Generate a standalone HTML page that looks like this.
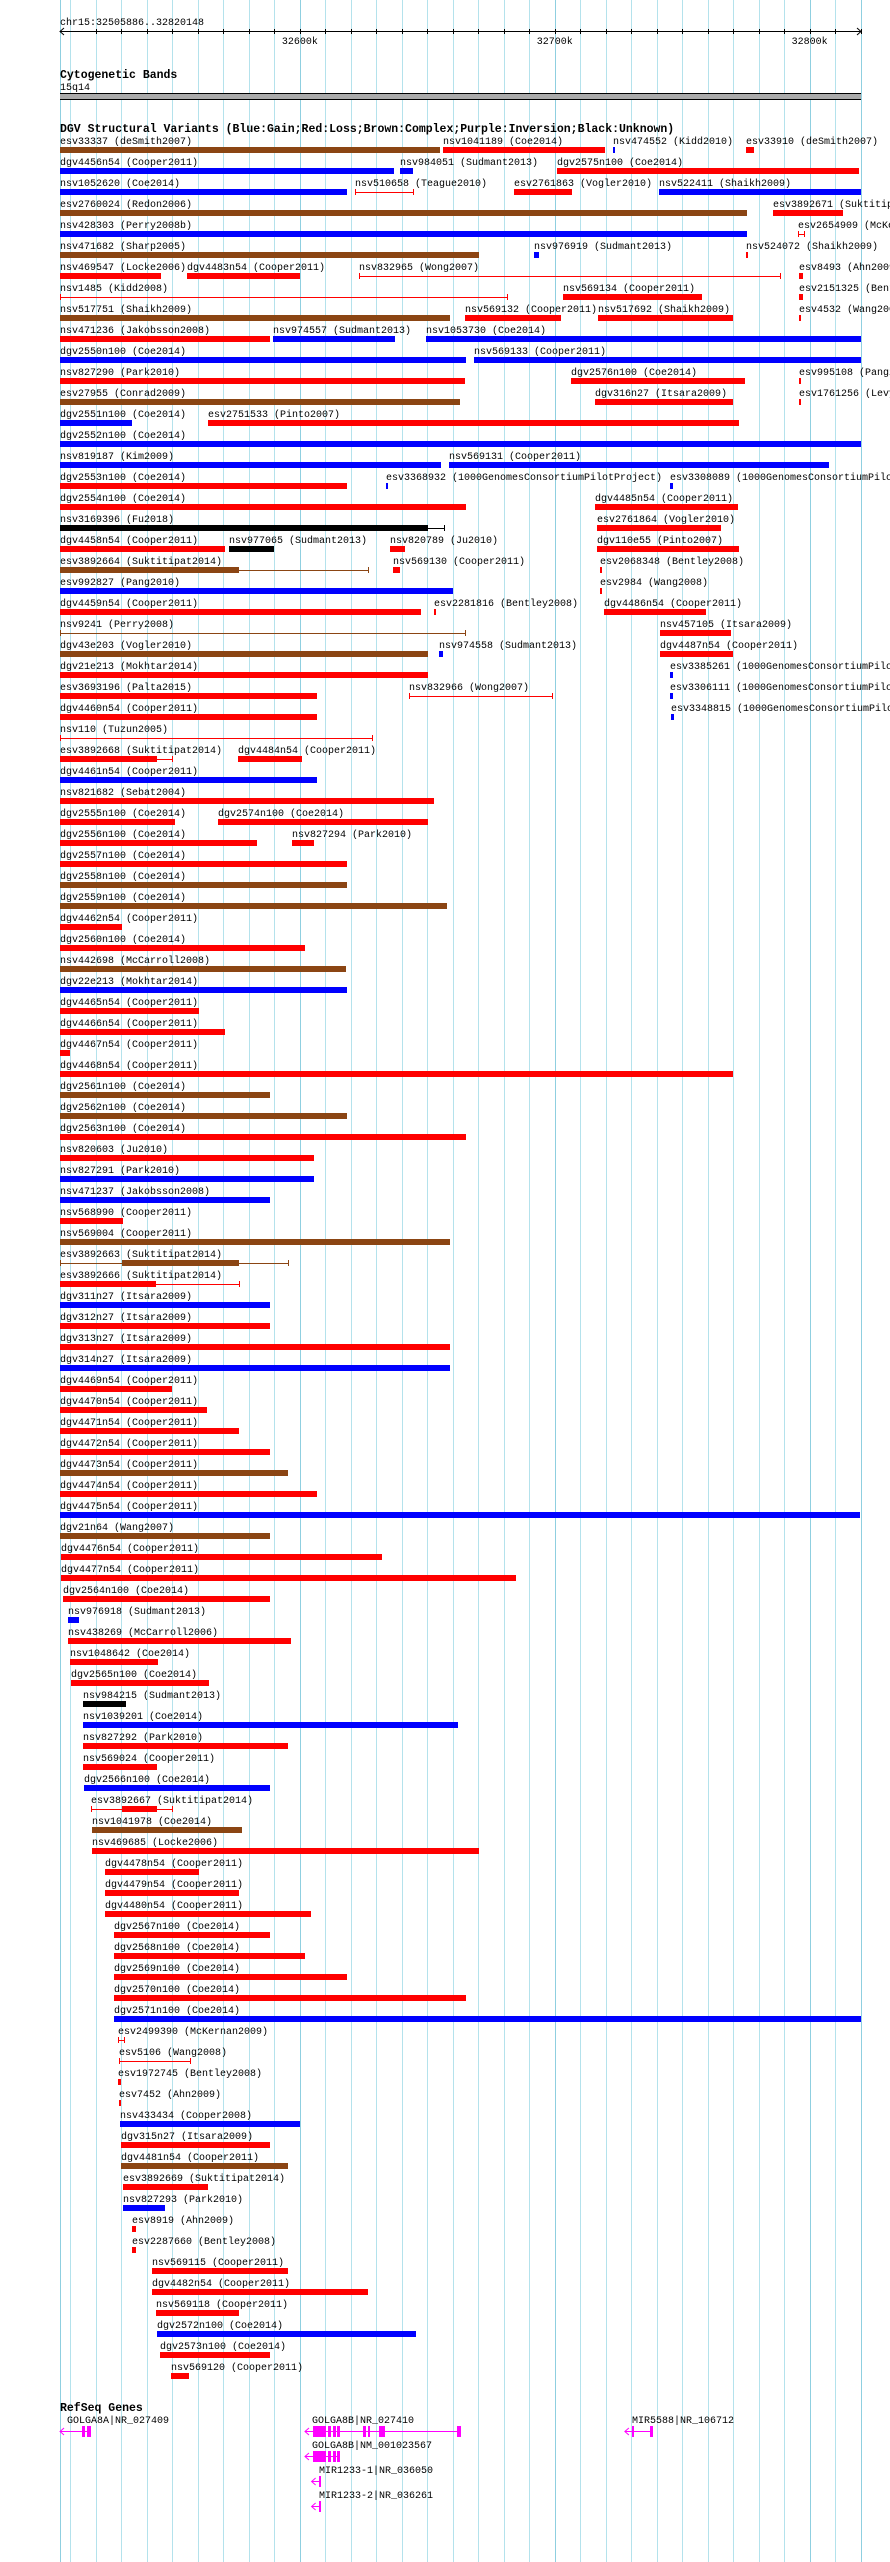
<!DOCTYPE html>
<html><head><meta charset="utf-8"><title>DGV / RefSeq browser chr15</title>
<style>
html,body{margin:0;padding:0;background:#fff;width:890px;height:2562px;overflow:hidden}
svg{display:block}
text{font-family:"Liberation Mono",monospace;font-size:10px;fill:#000}
.ttl{font-weight:bold;font-size:11.5px}
</style></head>
<body>
<svg id="chart" width="890" height="2562" viewBox="0 0 890 2562" xmlns="http://www.w3.org/2000/svg">
<rect x="0" y="0" width="890" height="2562" fill="#fff"/>
<g id="grid"></g>
<g id="ruler">
<text x="60" y="25">chr15:32505886..32820148</text>
</g>
<g id="cyto">
<text class="ttl" x="60" y="78">Cytogenetic Bands</text>
<text x="60" y="90">15q14</text>
<rect x="60" y="93" width="801" height="7" fill="#aaaaaa"/>
<rect x="60" y="93" width="801" height="1" fill="#000"/>
<rect x="60" y="99" width="801" height="1" fill="#000"/>
</g>
<text class="ttl" x="60" y="132">DGV Structural Variants (Blue:Gain;Red:Loss;Brown:Complex;Purple:Inversion;Black:Unknown)</text>
<g id="dgv"></g>
<text class="ttl" x="60" y="2411">RefSeq Genes</text>
<g id="genes"></g>
</svg>
<script>
// ---- data (genomic positions in kb) ----
var domainStart = 32505.886, domainEnd = 32820.148;
var majorTicks = [32600, 32700, 32800];
var tickLabels = ["32600k", "32700k", "32800k"];
var typeColors = {G:"#0000ff", L:"#ff0000", C:"#8b4513", U:"#000000"};
// [row, label, type, start, end, thickStart, thickEnd]; thickStart===null -> line only
var variants = [
[0,"esv33337 (deSmith2007)","C",32505.9,32654.9],
[0,"nsv1041189 (Coe2014)","L",32656.0,32719.7],
[0,"nsv474552 (Kidd2010)","G",32722.8,32723.7],
[0,"esv33910 (deSmith2007)","L",32774.9,32778.1],
[1,"dgv4456n54 (Cooper2011)","G",32505.9,32636.9],
[1,"nsv984051 (Sudmant2013)","G",32639.3,32644.5],
[1,"dgv2575n100 (Coe2014)","L",32700.8,32819.3],
[2,"nsv1052620 (Coe2014)","G",32505.9,32618.4],
[2,"nsv510658 (Teague2010)","L",32621.7,32644.2,null],
[2,"esv2761863 (Vogler2010)","L",32684.1,32706.8],
[2,"nsv522411 (Shaikh2009)","G",32740.9,32820.2],
[3,"esv2760024 (Redon2006)","C",32505.9,32775.4],
[3,"esv3892671 (Suktitipat2014)","L",32785.6,32813.0],
[4,"nsv428303 (Perry2008b)","G",32505.9,32775.4],
[4,"esv2654909 (McKernan2009)","L",32795.4,32797.7,null],
[5,"nsv471682 (Sharp2005)","C",32505.9,32670.3],
[5,"nsv976919 (Sudmant2013)","G",32691.7,32693.9],
[5,"nsv524072 (Shaikh2009)","L",32774.9,32775.8],
[6,"nsv469547 (Locke2006)","L",32505.9,32545.6],
[6,"dgv4483n54 (Cooper2011)","L",32555.6,32600.1],
[6,"nsv832965 (Wong2007)","L",32623.3,32788.5,null],
[6,"esv8493 (Ahn2009)","L",32795.9,32797.4],
[7,"nsv1485 (Kidd2008)","L",32505.9,32681.2,null],
[7,"nsv569134 (Cooper2011)","L",32703.2,32757.8],
[7,"esv2151325 (Bentley2008)","L",32795.9,32797.2],
[8,"nsv517751 (Shaikh2009)","C",32505.9,32658.9],
[8,"nsv569132 (Cooper2011)","L",32664.7,32702.3],
[8,"nsv517692 (Shaikh2009)","L",32717.0,32769.8],
[8,"esv4532 (Wang2008)","L",32795.9,32796.6],
[9,"nsv471236 (Jakobsson2008)","L",32505.9,32588.3],
[9,"nsv974557 (Sudmant2013)","G",32589.5,32637.3],
[9,"nsv1053730 (Coe2014)","G",32649.6,32820.2],
[10,"dgv2550n100 (Coe2014)","G",32505.9,32665.2],
[10,"nsv569133 (Cooper2011)","G",32668.3,32820.2],
[11,"nsv827290 (Park2010)","L",32505.9,32664.7],
[11,"dgv2576n100 (Coe2014)","L",32706.4,32774.7],
[11,"esv995108 (Pang2010)","L",32795.9,32796.6],
[12,"esv27955 (Conrad2009)","C",32505.9,32662.7],
[12,"dgv316n27 (Itsara2009)","L",32715.7,32769.8],
[12,"esv1761256 (Levy2007)","L",32795.9,32796.6],
[13,"dgv2551n100 (Coe2014)","G",32505.9,32534.2],
[13,"esv2751533 (Pinto2007)","L",32563.9,32772.3],
[14,"dgv2552n100 (Coe2014)","G",32505.9,32820.2],
[15,"nsv819187 (Kim2009)","G",32505.9,32655.4],
[15,"nsv569131 (Cooper2011)","G",32658.5,32807.7],
[16,"dgv2553n100 (Coe2014)","L",32505.9,32618.4],
[16,"esv3368932 (1000GenomesConsortiumPilotProject)","G",32633.8,32634.7],
[16,"esv3308089 (1000GenomesConsortiumPilotProject)","G",32745.1,32746.4],
[17,"dgv2554n100 (Coe2014)","L",32505.9,32665.2],
[17,"dgv4485n54 (Cooper2011)","L",32715.7,32771.8],
[18,"nsv3169396 (Fu2018)","U",32505.9,32656.5,32505.9,32650.2],
[18,"esv2761864 (Vogler2010)","L",32716.6,32765.1],
[19,"dgv4458n54 (Cooper2011)","L",32505.9,32570.5],
[19,"nsv977065 (Sudmant2013)","U",32572.1,32589.9],
[19,"nsv820789 (Ju2010)","L",32635.3,32641.3],
[19,"dgv110e55 (Pinto2007)","L",32716.6,32772.3],
[20,"esv3892664 (Suktitipat2014)","C",32505.9,32626.9,32505.9,32576.1],
[20,"nsv569130 (Cooper2011)","L",32636.4,32639.3],
[20,"esv2068348 (Bentley2008)","L",32717.7,32718.4],
[21,"esv992827 (Pang2010)","G",32505.9,32660.0],
[21,"esv2984 (Wang2008)","L",32717.7,32718.4],
[22,"dgv4459n54 (Cooper2011)","L",32505.9,32647.6],
[22,"esv2281816 (Bentley2008)","L",32652.7,32653.4],
[22,"dgv4486n54 (Cooper2011)","L",32719.3,32759.3],
[23,"nsv9241 (Perry2008)","C",32505.9,32664.9,null],
[23,"nsv457105 (Itsara2009)","L",32741.3,32769.1],
[24,"dgv43e203 (Vogler2010)","C",32505.9,32650.2],
[24,"nsv974558 (Sudmant2013)","G",32654.5,32656.3],
[24,"dgv4487n54 (Cooper2011)","L",32741.3,32769.8],
[25,"dgv21e213 (Mokhtar2014)","L",32505.9,32650.2],
[25,"esv3385261 (1000GenomesConsortiumPilotProject)","G",32745.1,32746.4],
[26,"esv3693196 (Palta2015)","L",32505.9,32606.6],
[26,"nsv832966 (Wong2007)","L",32642.9,32698.8,null],
[26,"esv3306111 (1000GenomesConsortiumPilotProject)","G",32745.1,32746.4],
[27,"dgv4460n54 (Cooper2011)","L",32505.9,32606.6],
[27,"esv3348815 (1000GenomesConsortiumPilotProject)","G",32745.5,32746.7],
[28,"nsv110 (Tuzun2005)","L",32505.9,32628.4,null],
[29,"esv3892668 (Suktitipat2014)","L",32505.9,32549.8,32505.9,32544.0],
[29,"dgv4484n54 (Cooper2011)","L",32575.6,32600.8],
[30,"dgv4461n54 (Cooper2011)","G",32505.9,32606.6],
[31,"nsv821682 (Sebat2004)","L",32505.9,32652.7],
[32,"dgv2555n100 (Coe2014)","L",32505.9,32550.9],
[32,"dgv2574n100 (Coe2014)","L",32567.9,32650.2],
[33,"dgv2556n100 (Coe2014)","L",32505.9,32583.2],
[33,"nsv827294 (Park2010)","L",32596.8,32605.5],
[34,"dgv2557n100 (Coe2014)","L",32505.9,32618.4],
[35,"dgv2558n100 (Coe2014)","C",32505.9,32618.4],
[36,"dgv2559n100 (Coe2014)","C",32505.9,32657.8],
[37,"dgv4462n54 (Cooper2011)","L",32505.9,32530.2],
[38,"dgv2560n100 (Coe2014)","L",32505.9,32601.9],
[39,"nsv442698 (McCarroll2008)","C",32505.9,32618.2],
[40,"dgv22e213 (Mokhtar2014)","G",32505.9,32618.4],
[41,"dgv4465n54 (Cooper2011)","L",32505.9,32560.5],
[42,"dgv4466n54 (Cooper2011)","L",32505.9,32570.5],
[43,"dgv4467n54 (Cooper2011)","L",32505.9,32509.7],
[44,"dgv4468n54 (Cooper2011)","L",32505.9,32769.8],
[45,"dgv2561n100 (Coe2014)","C",32505.9,32588.3],
[46,"dgv2562n100 (Coe2014)","C",32505.9,32618.4],
[47,"dgv2563n100 (Coe2014)","L",32505.9,32665.2],
[48,"nsv820603 (Ju2010)","L",32505.9,32605.5],
[49,"nsv827291 (Park2010)","G",32505.9,32605.5],
[50,"nsv471237 (Jakobsson2008)","G",32506.0,32588.3],
[51,"nsv568990 (Cooper2011)","L",32506.0,32530.7],
[52,"nsv569004 (Cooper2011)","C",32506.0,32658.9],
[53,"esv3892663 (Suktitipat2014)","C",32506.0,32595.5,32530.2,32576.1],
[54,"esv3892666 (Suktitipat2014)","L",32506.0,32576.1,32506.0,32543.6],
[55,"dgv311n27 (Itsara2009)","G",32506.0,32588.3],
[56,"dgv312n27 (Itsara2009)","L",32506.0,32588.3],
[57,"dgv313n27 (Itsara2009)","L",32506.0,32658.9],
[58,"dgv314n27 (Itsara2009)","G",32506.0,32658.9],
[59,"dgv4469n54 (Cooper2011)","L",32506.0,32549.8],
[60,"dgv4470n54 (Cooper2011)","L",32506.0,32563.6],
[61,"dgv4471n54 (Cooper2011)","L",32506.0,32576.1],
[62,"dgv4472n54 (Cooper2011)","L",32506.0,32588.3],
[63,"dgv4473n54 (Cooper2011)","C",32506.0,32595.2],
[64,"dgv4474n54 (Cooper2011)","L",32506.0,32606.6],
[65,"dgv4475n54 (Cooper2011)","G",32506.0,32819.9],
[66,"dgv21n64 (Wang2007)","C",32506.0,32588.3],
[67,"dgv4476n54 (Cooper2011)","L",32506.2,32632.2],
[68,"dgv4477n54 (Cooper2011)","L",32506.2,32684.8],
[69,"dgv2564n100 (Coe2014)","L",32507.1,32588.3],
[70,"nsv976918 (Sudmant2013)","G",32509.1,32513.3],
[71,"nsv438269 (McCarroll2006)","L",32509.1,32596.6],
[72,"nsv1048642 (Coe2014)","L",32509.7,32544.3],
[73,"dgv2565n100 (Coe2014)","L",32510.2,32564.3],
[74,"nsv984215 (Sudmant2013)","U",32514.9,32531.8],
[75,"nsv1039201 (Coe2014)","G",32514.9,32662.0],
[76,"nsv827292 (Park2010)","L",32514.9,32595.2],
[77,"nsv569024 (Cooper2011)","L",32514.9,32544.0],
[78,"dgv2566n100 (Coe2014)","G",32515.3,32588.3],
[79,"esv3892667 (Suktitipat2014)","L",32518.2,32549.8,32530.2,32544.0],
[80,"nsv1041978 (Coe2014)","C",32518.4,32577.2],
[81,"nsv469685 (Locke2006)","L",32518.4,32670.3],
[82,"dgv4478n54 (Cooper2011)","L",32523.5,32560.5],
[83,"dgv4479n54 (Cooper2011)","L",32523.5,32576.1],
[84,"dgv4480n54 (Cooper2011)","L",32523.5,32604.4],
[85,"dgv2567n100 (Coe2014)","L",32527.1,32588.3],
[86,"dgv2568n100 (Coe2014)","L",32527.1,32601.9],
[87,"dgv2569n100 (Coe2014)","L",32527.1,32618.4],
[88,"dgv2570n100 (Coe2014)","L",32527.1,32665.2],
[89,"dgv2571n100 (Coe2014)","G",32527.1,32820.2],
[90,"esv2499390 (McKernan2009)","L",32528.7,32530.9,null],
[91,"esv5106 (Wang2008)","L",32528.9,32556.9,null],
[92,"esv1972745 (Bentley2008)","L",32528.7,32530.0],
[93,"esv7452 (Ahn2009)","L",32529.1,32529.8],
[94,"nsv433434 (Cooper2008)","G",32529.3,32600.1],
[95,"dgv315n27 (Itsara2009)","L",32529.8,32588.3],
[96,"dgv4481n54 (Cooper2011)","C",32529.8,32595.2],
[97,"esv3892669 (Suktitipat2014)","L",32530.7,32563.9],
[98,"nsv827293 (Park2010)","G",32530.7,32547.2],
[99,"esv8919 (Ahn2009)","L",32534.2,32535.8],
[100,"esv2287660 (Bentley2008)","L",32534.2,32535.8],
[101,"nsv569115 (Cooper2011)","L",32542.0,32595.2],
[102,"dgv4482n54 (Cooper2011)","L",32542.0,32626.6],
[103,"nsv569118 (Cooper2011)","L",32543.6,32576.1],
[104,"dgv2572n100 (Coe2014)","G",32544.0,32645.6],
[105,"dgv2573n100 (Coe2014)","L",32545.1,32588.3],
[106,"nsv569120 (Cooper2011)","L",32549.4,32556.5]
];
// genes: [label, row, start, end, exons]
var geneLabels = ["GOLGA8A|NR_027409","GOLGA8B|NR_027410","GOLGA8B|NM_001023567","MIR1233-1|NR_036050","MIR1233-2|NR_036261","MIR5588|NR_106712"];
var geneRows = [0,0,1,2,3,0];
var geneStarts = [32505.9,32602.0,32602.0,32604.6,32604.6,32727.5];
var geneEnds = [32518.1,32663.2,32615.7,32608.3,32608.3,32738.5];
var geneExons = [
 [[32514.5,32515.7],[32516.5,32518.1]],
 [[32605.1,32610.2],[32611.0,32612.2],[32613.0,32614.2],[32614.6,32615.7],[32624.8,32625.9],[32626.7,32627.5],[32631.0,32633.4],[32661.6,32663.2]],
 [[32605.1,32610.2],[32611.0,32612.2],[32613.0,32614.2],[32614.6,32615.7]],
 [[32607.5,32608.3]],
 [[32607.5,32608.3]],
 [[32730.3,32731.1],[32737.4,32738.5]]
];
// ---- axis ----
var X0 = 60, X1 = 861;
function x(kb){ return X0 + (kb - domainStart) * (X1 - X0) / (domainEnd - domainStart); }
var ROW0 = 147, PITCH = 21, BARH = 6;
function rowY(r){ return ROW0 + r * PITCH; }
var NS = "http://www.w3.org/2000/svg";
function mk(tag, attrs, parent){
  var e = document.createElementNS(NS, tag);
  for (var k in attrs) e.setAttribute(k, attrs[k]);
  parent.appendChild(e); return e;
}
var grid = document.getElementById("grid");
for (var p = 32510; p <= 32820; p += 10) {
  var gl = mk("rect", {x: Math.round(x(p)), y: 0, width: 1, height: 2562, fill: (p % 100 === 0) ? "#8fcfe0" : "#b4e2ec"}, grid);
  
  
}
var edgeL = mk("rect", {x: X0, y: 0, width: 1, height: 2562, fill: "#8fcfe0"}, grid);


var edgeR = mk("rect", {x: X1, y: 0, width: 1, height: 2562, fill: "#8fcfe0"}, grid);


// ruler
var ruler = document.getElementById("ruler");
var axl = mk("rect", {x: X0, y: 31, width: X1 - X0 + 1, height: 1, fill: "#000"}, ruler);


var arL = mk("path", {d: "M" + (X0 + 4) + " 28 L" + X0 + " 31.5 L" + (X0 + 4) + " 35", stroke: "#000", fill: "none"}, ruler);


var arR = mk("path", {d: "M" + (X1 - 4) + " 28 L" + X1 + " 31.5 L" + (X1 - 4) + " 35", stroke: "#000", fill: "none"}, ruler);


for (var t = 32520; t <= 32820; t += 10) {
  var tk = mk("rect", {x: Math.round(x(t)), y: 29, width: 1, height: 5, fill: "#000"}, ruler);
  
  
}
for (var i = 0; i < majorTicks.length; i++) {
  var tl = mk("text", {x: x(majorTicks[i]), y: 44, "text-anchor": "middle"}, ruler);
  tl.textContent = tickLabels[i];
  
  
}
// variants
var dgv = document.getElementById("dgv");
variants.forEach(function(v){
  var row = v[0], label = v[1], col = typeColors[v[2]], s = v[3], e = v[4];
  var y = rowY(row);
  var g = mk("g", {}, dgv);
  
  
  var xs = Math.round(x(s)), xe = Math.round(x(e));
  var lt = mk("text", {x: xs, y: y - 3}, g);
  lt.textContent = label;
  
  
  if (v.length === 5) {
    var r = mk("rect", {x: xs, y: y, width: Math.max(1, xe - xs), height: BARH, fill: col}, g);
    
    
  } else {
    var ln = mk("rect", {x: xs, y: y + 3, width: Math.max(1, xe - xs), height: 1, fill: col}, g);
    
    
    var c1 = mk("rect", {x: xs, y: y, width: 1, height: BARH, fill: col}, g);
    
    
    var c2 = mk("rect", {x: xe, y: y, width: 1, height: BARH, fill: col}, g);
    
    
    if (v[5] !== null) {
      var ts = Math.round(x(v[5])), te = Math.round(x(v[6]));
      var tb = mk("rect", {x: ts, y: y, width: Math.max(1, te - ts), height: BARH, fill: col}, g);
      
      
    }
  }
});
// genes
var genes = document.getElementById("genes");
var MAG = "#ff00ff";
for (var gi = 0; gi < geneLabels.length; gi++) {
  var gy = 2431 + geneRows[gi] * 25;
  var gg = mk("g", {}, genes);
  
  
  var gx0 = x(geneStarts[gi]), gx1 = x(geneEnds[gi]);
  var glb = mk("text", {x: Math.max(X0, Math.round(gx0) + 7), y: gy - 8}, gg);
  glb.textContent = geneLabels[gi];
  
  
  var gline = mk("rect", {x: Math.round(gx0), y: gy, width: Math.max(1, Math.round(gx1 - gx0)), height: 1, fill: MAG}, gg);
  
  
  var arrow = mk("path", {d: "M" + (gx0 + 4) + " " + (gy - 3) + " L" + gx0 + " " + (gy + 0.5) + " L" + (gx0 + 4) + " " + (gy + 4), stroke: MAG, fill: "none"}, gg);
  
  
  geneExons[gi].forEach(function(ex){
    var ex0 = Math.round(x(ex[0])), ex1 = Math.round(x(ex[1]));
    var er = mk("rect", {x: ex0, y: gy - 5, width: Math.max(1, ex1 - ex0), height: 11, fill: MAG}, gg);
    
    
  });
}
</script>
</body></html>
